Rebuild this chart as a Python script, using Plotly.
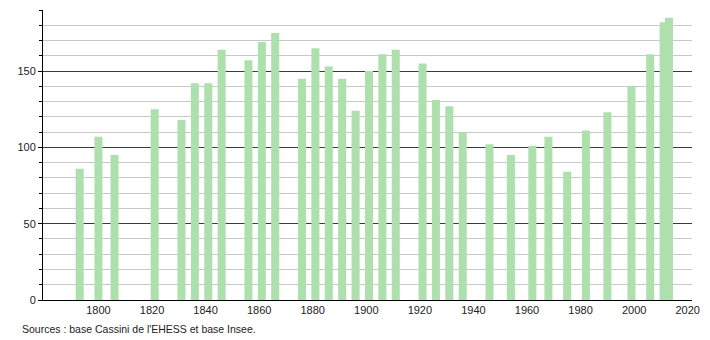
import plotly.graph_objects as go

years = [1793, 1800, 1806, 1821, 1831, 1836, 1841, 1846, 1856, 1861, 1866,
         1876, 1881, 1886, 1891, 1896, 1901, 1906, 1911, 1921, 1926, 1931,
         1936, 1946, 1954, 1962, 1968, 1975, 1982, 1990, 1999, 2006, 2011, 2013]
population = [86, 107, 95, 125, 118, 142, 142, 164, 157, 169, 175,
              145, 165, 153, 145, 124, 150, 161, 164, 155, 131, 127,
              110, 102, 95, 101, 107, 84, 111, 123, 140, 161, 182, 185]
x_ticks = [1800, 1820, 1840, 1860, 1880, 1900, 1920, 1940, 1960, 1980, 2000, 2020]
y_ticks = [0, 50, 100, 150]
source_text = "Sources : base Cassini de l'EHESS et base Insee."

fig = go.Figure()
fig.add_trace(go.Bar(
    x=years, y=population, width=3.0,
    marker=dict(color="#aee0ae", line=dict(width=0)),
    hoverinfo="x+y",
))

font = dict(family="Liberation Sans, Arial, sans-serif", size=11, color="#222")

fig.update_layout(
    width=710, height=340,
    margin=dict(l=43, r=10, t=10, b=40),
    paper_bgcolor="white", plot_bgcolor="white",
    showlegend=False,
    font=font,
    xaxis=dict(
        range=[1779.3, 2021.6],
        tickvals=x_ticks, ticktext=[str(v) for v in x_ticks],
        showgrid=False, zeroline=False,
        showline=True, linecolor="black", linewidth=1,
        ticks="", ticklen=0, tickfont=font,
    ),
    yaxis=dict(
        range=[0, 190],
        tickvals=y_ticks, ticktext=[str(v) for v in y_ticks],
        showgrid=True, gridcolor="#3a3a3a", gridwidth=1,
        zeroline=False,
        showline=True, linecolor="black", linewidth=1,
        ticks="outside", ticklen=4, tickcolor="black",
        tickfont=font,
        minor=dict(dtick=10, tick0=0, showgrid=True, gridcolor="#c8c8c8",
                   gridwidth=1, ticks="outside", ticklen=3, tickcolor="black"),
    ),
    annotations=[dict(
        text=source_text, xref="paper", yref="paper",
        x=-23/657, y=(300-329)/290, xanchor="left", yanchor="middle",
        showarrow=False, font=dict(family="Liberation Sans, Arial, sans-serif", size=10.5, color="#222"),
    )],
)

fig.write_html("out.html")
